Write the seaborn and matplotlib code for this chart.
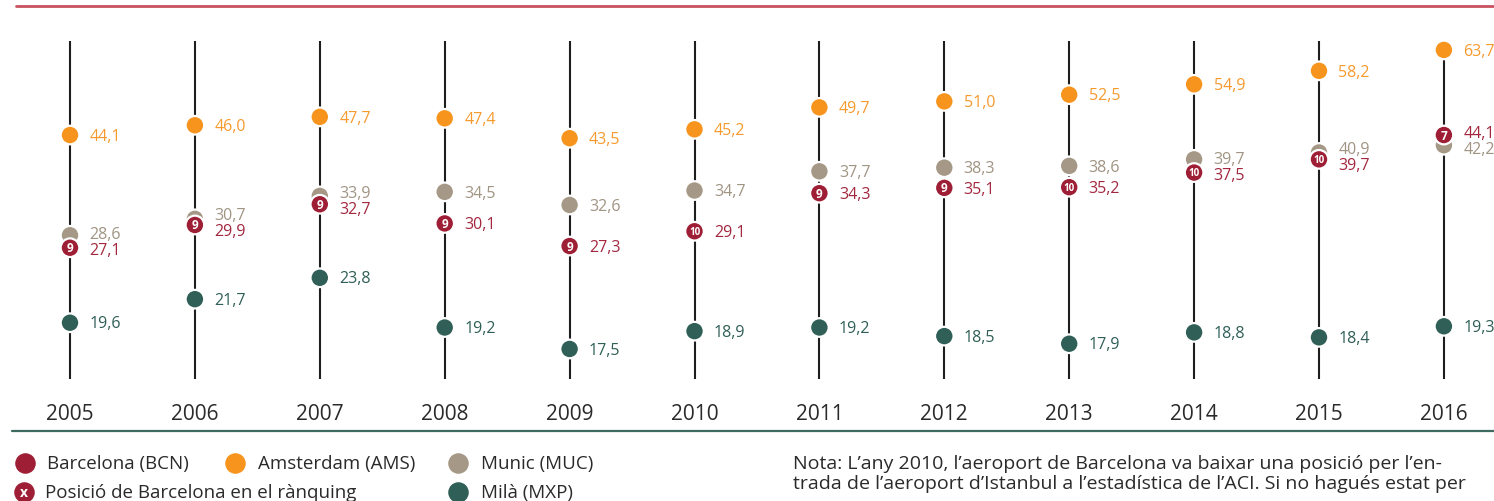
import numpy as np
import pandas as pd
import matplotlib
matplotlib.use("Agg")
import matplotlib.pyplot as plt
from matplotlib.lines import Line2D
import seaborn as sns

# Data (millions of passengers)
years = [2005, 2006, 2007, 2008, 2009, 2010, 2011, 2012, 2013, 2014, 2015, 2016]
ams = [44.1, 46.0, 47.7, 47.4, 43.5, 45.2, 49.7, 51.0, 52.5, 54.9, 58.2, 63.7]
muc = [28.6, 30.7, 33.9, 34.5, 32.6, 34.7, 37.7, 38.3, 38.6, 39.7, 40.9, 42.2]
bcn = [27.1, 29.9, 32.7, 30.1, 27.3, 29.1, 34.3, 35.1, 35.2, 37.5, 39.7, 44.1]
mxp = [19.6, 21.7, 23.8, 19.2, 17.5, 18.9, 19.2, 18.5, 17.9, 18.8, 18.4, 19.3]
bcn_rank = [9, 9, 9, 9, 9, 10, 9, 9, 10, 10, 10, 7]

airports = ["AMS", "MUC", "MXP", "BCN"]
legend_names = {"BCN": "Barcelona (BCN)", "AMS": "Amsterdam (AMS)",
                "MUC": "Munic (MUC)", "MXP": "Milà (MXP)"}
rank_label = "Posició de Barcelona en el rànquing"
note_lines = ["Nota: L’any 2010, l’aeroport de Barcelona va baixar una posició per l’en-",
              "trada de l’aeroport d’Istanbul a l’estadística de l’ACI. Si no hagués estat per"]

colors = {"BCN": "#9E1F35", "AMS": "#F7941D", "MUC": "#A59886", "MXP": "#2F5F56"}
text_colors = {"BCN": "#A3283F", "AMS": "#F79A2E", "MUC": "#A09483", "MXP": "#2F5F56"}

df = pd.DataFrame({
    "year": years * 4,
    "airport": ["AMS"] * 12 + ["MUC"] * 12 + ["MXP"] * 12 + ["BCN"] * 12,
    "value": ams + muc + mxp + bcn,
})

sns.set_theme(style="white")
plt.rcParams["font.family"] = ["Open Sans", "DejaVu Sans"]

W, H = 1494, 502
fig = plt.figure(figsize=(W / 100, H / 100), dpi=100)
ax = fig.add_axes([0, (H - 380) / H, 1, 338 / H])

# vertical year stems
for y in years:
    ax.axvline(y, color="#1e1e1e", lw=1.5, zorder=1)

sns.scatterplot(data=df, x="year", y="value", hue="airport", palette=colors,
                hue_order=airports, s=180, edgecolor="white", linewidth=1.6,
                legend=False, ax=ax, zorder=3)

ax.set_yscale("log")
ax.set_ylim(15.37, 66.2)
ax.set_xlim(2005 - 70 / 124.9, 2005 + (W - 70) / 124.9)

# rank numbers inside Barcelona markers
for y, v, r in zip(years, bcn, bcn_rank):
    ax.text(y, v, str(r), color="white", fontsize=8.5 if r < 10 else 7,
            fontweight="bold", ha="center", va="center", zorder=4)

# value labels, nudged apart where Barcelona and Munich sit close together
px_per_ln = 338 / np.log(66.2 / 15.37)
series = {"AMS": ams, "MUC": muc, "BCN": bcn, "MXP": mxp}
for i, y in enumerate(years):
    gap = (np.log(bcn[i]) - np.log(muc[i])) * px_per_ln
    shift = max(0.0, (16 - abs(gap)) / 2) / 1.389
    sign = 1 if gap >= 0 else -1
    for key, vals in series.items():
        dy = 0
        if key == "BCN":
            dy = sign * shift
        elif key == "MUC":
            dy = -sign * shift
        ax.annotate(f"{vals[i]:.1f}".replace(".", ","), (y, vals[i]),
                    xytext=(14, dy - 0.5), textcoords="offset points",
                    color=text_colors[key], fontsize=11.5, ha="left", va="center")

ax.set_xticks(years)
ax.set_xticklabels([str(y) for y in years], fontsize=15, color="#2a2a2a")
ax.tick_params(axis="x", length=0, pad=17)
ax.set_yticks([])
ax.yaxis.set_minor_locator(matplotlib.ticker.NullLocator())
ax.set_xlabel("")
ax.set_ylabel("")
sns.despine(ax=ax, left=True, bottom=True)
ax.patch.set_alpha(0)

# overlay for rules, legend and note (pixel coordinates)
ov = fig.add_axes([0, 0, 1, 1], zorder=-1)
ov.set_xlim(0, W)
ov.set_ylim(H, 0)
ov.axis("off")
ov.add_line(Line2D([16, W], [7, 7], color="#C9525F", lw=2))
ov.add_line(Line2D([12, W], [432, 432], color="#3D6B60", lw=1.6))

leg_font = 13.5
row1, row2 = 464, 493
ms = 190
ov.scatter([25], [row1], s=ms, color=colors["BCN"])
ov.text(47, row1, legend_names["BCN"], fontsize=leg_font, va="center", color="#2a2a2a")
ov.scatter([235], [row1], s=ms, color=colors["AMS"])
ov.text(258, row1, legend_names["AMS"], fontsize=leg_font, va="center", color="#2a2a2a")
ov.scatter([458], [row1], s=ms, color=colors["MUC"])
ov.text(481, row1, legend_names["MUC"], fontsize=leg_font, va="center", color="#2a2a2a")
ov.scatter([24], [row2], s=ms, color=colors["BCN"])
ov.text(24, row2, "x", color="white", fontsize=10, fontweight="bold", ha="center", va="center")
ov.text(45, row2, rank_label, fontsize=leg_font, va="center", color="#2a2a2a")
ov.scatter([458], [row2], s=ms, color=colors["MXP"])
ov.text(481, row2, legend_names["MXP"], fontsize=leg_font, va="center", color="#2a2a2a")

for k, line in enumerate(note_lines):
    ov.text(793, 464 + 20 * k, line, fontsize=14, va="center", color="#2a2a2a")

fig.savefig("out.png", dpi=100)
